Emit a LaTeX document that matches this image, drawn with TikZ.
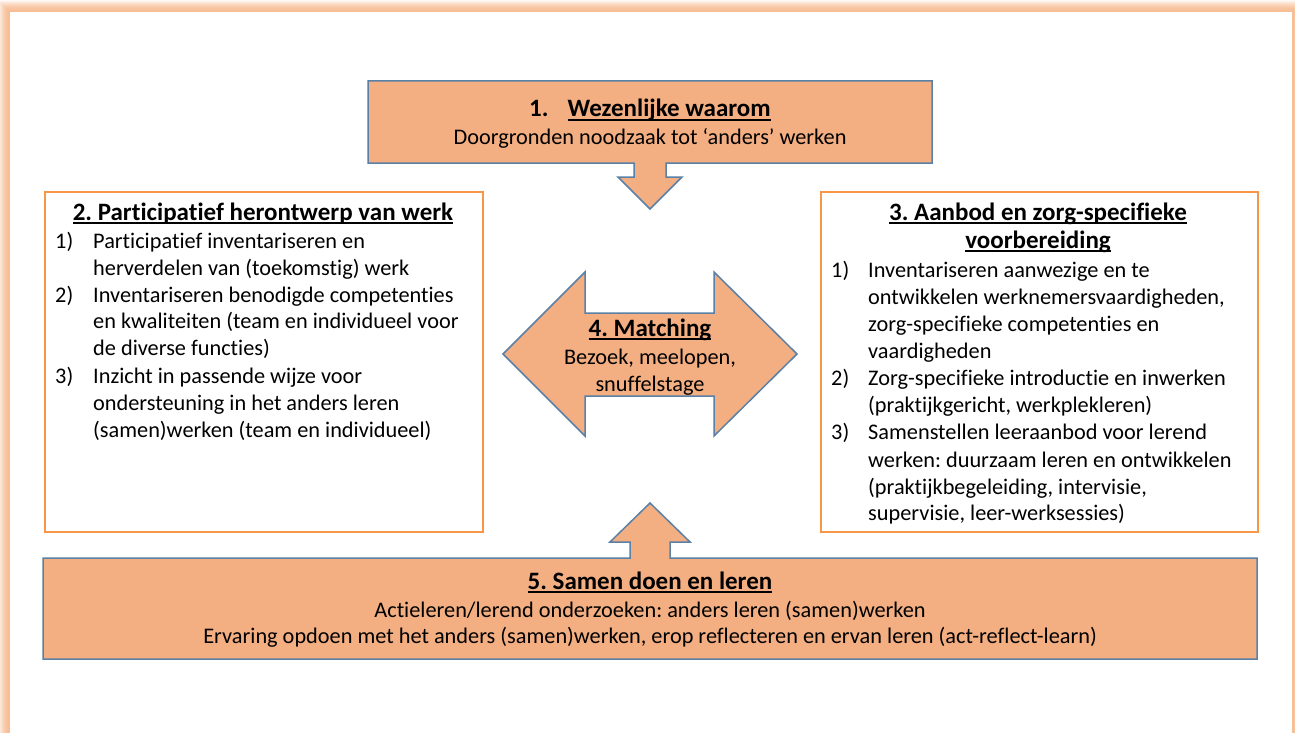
\documentclass[tikz,border=0pt]{standalone}
\usepackage{fontspec}
\setmainfont[RawFeature={-liga;-clig;-calt}]{Carlito}
\frenchspacing
\definecolor{peach}{HTML}{F3AE82}
\definecolor{steel}{HTML}{5A80A6}
\definecolor{boxline}{HTML}{F79646}
\definecolor{glowc}{HTML}{F7BD94}
% underline set close under the baseline
\newcommand\ulinetxt[1]{\setbox0\hbox{#1}\rlap{\rule[-3.8pt]{\wd0}{1.6pt}}\box0}
\begin{document}
\begin{tikzpicture}[x=1pt,y=-1pt,
  txt/.style={inner sep=0pt, font=\fontsize{22.3}{26.5}\selectfont},
  ttl/.style={inner sep=0pt, font=\fontsize{25}{28}\selectfont\bfseries},
  arrowshape/.style={fill=peach, draw=steel, line width=1.5pt, line join=miter},
  listbox/.style={draw=boxline, fill=white, line width=1.5pt},
  lt/.style={txt, anchor=base west},
  ct/.style={txt, anchor=base},
]
\useasboundingbox (0,0) rectangle (1295,733);
% soft frame round the page
\foreach \k in {0,...,11}{
  \draw[draw=glowc, draw opacity={0.95-\k*0.08}, line width=1.05pt]
    (10-\k,12-\k) rectangle (1292+\k,760);
}
\fill[white] (10,12) rectangle (1292,760);

% 1. top box with down arrow
\draw[arrowshape] (368,81) -- (932,81) -- (932,163) -- (666,163) -- (666,177)
  -- (682,177) -- (650,209) -- (618,177) -- (634,177) -- (634,163) -- (368,163) -- cycle;
\node[ttl, anchor=base] (t1) at (650,117) {1.\hspace{19pt}\ulinetxt{Wezenlijke waarom}};
\node[ct] (t1b) at (650,145) {Doorgronden noodzaak tot ‘anders’ werken};

% 2. left box
\node[listbox, minimum width=438pt, minimum height=340pt, anchor=north west] (b2) at (44,191) {};
\node[ttl, anchor=base] (t2) at (263,220) {\ulinetxt{2. Participatief herontwerp van werk}};
\node[lt] (n21) at (55,248) {1)};
\node[lt] (l21) at (93,248) {Participatief inventariseren en};
\node[lt] (l22) at (93,275) {herverdelen van (toekomstig) werk};
\node[lt] (n22) at (55,302) {2)};
\node[lt] (l23) at (93,302) {Inventariseren benodigde competenties};
\node[lt] (l24) at (93,328) {en kwaliteiten (team en individueel voor};
\node[lt] (l25) at (93,355) {de diverse functies)};
\node[lt] (n23) at (55,383) {3)};
\node[lt] (l26) at (93,383) {Inzicht in passende wijze voor};
\node[lt] (l27) at (93,410) {ondersteuning in het anders leren};
\node[lt] (l28) at (93,437) {(samen)werken (team en individueel)};

% 3. right box
\node[listbox, minimum width=437pt, minimum height=340pt, anchor=north west] (b3) at (820,191) {};
\node[ttl, anchor=base] (t3) at (1038,220) {\ulinetxt{3. Aanbod en zorg-specifieke}};
\node[ttl, anchor=base] (t3b) at (1038,248) {\ulinetxt{voorbereiding}};
\node[lt] (n31) at (831,277) {1)};
\node[lt] (l31) at (868,277) {Inventariseren aanwezige en te};
\node[lt] (l32) at (868,304) {ontwikkelen werknemersvaardigheden,};
\node[lt] (l33) at (868,331) {zorg-specifieke competenties en};
\node[lt] (l34) at (868,358) {vaardigheden};
\node[lt] (n32) at (831,385) {2)};
\node[lt] (l35) at (868,385) {Zorg-specifieke introductie en inwerken};
\node[lt] (l36) at (868,412) {(praktijkgericht, werkplekleren)};
\node[lt] (n33) at (831,439) {3)};
\node[lt] (l37) at (868,439) {Samenstellen leeraanbod voor lerend};
\node[lt] (l38) at (868,467) {werken: duurzaam leren en ontwikkelen};
\node[lt] (l39) at (868,494) {(praktijkbegeleiding, intervisie,};
\node[lt] (l310) at (868,520) {supervisie, leer-werksessies)};

% 4. double arrow in the middle
\draw[arrowshape] (503,354) -- (585,272) -- (585,313) -- (714,313) -- (714,272)
  -- (797,354) -- (714,436) -- (714,396) -- (585,396) -- (585,436) -- cycle;
\node[ttl, anchor=base] (t4) at (650,336) {\ulinetxt{4. Matching}};
\node[ct] (t4b) at (650,364) {Bezoek, meelopen,};
\node[ct] (t4c) at (650,391) {snuffelstage};

% 5. bottom box with up arrow
\draw[arrowshape] (43,558) -- (630,558) -- (630,542) -- (610,542) -- (650,503)
  -- (690,542) -- (670,542) -- (670,558) -- (1257,558) -- (1257,659) -- (43,659) -- cycle;
\node[ttl, anchor=base] (t5) at (650,589) {\ulinetxt{5. Samen doen en leren}};
\node[ct] (t5b) at (650,617) {Actieleren/lerend onderzoeken: anders leren (samen)werken};
\node[ct] (t5c) at (650,643) {Ervaring opdoen met het anders (samen)werken, erop reflecteren en ervan leren (act-reflect-learn)};
\end{tikzpicture}
\end{document}
